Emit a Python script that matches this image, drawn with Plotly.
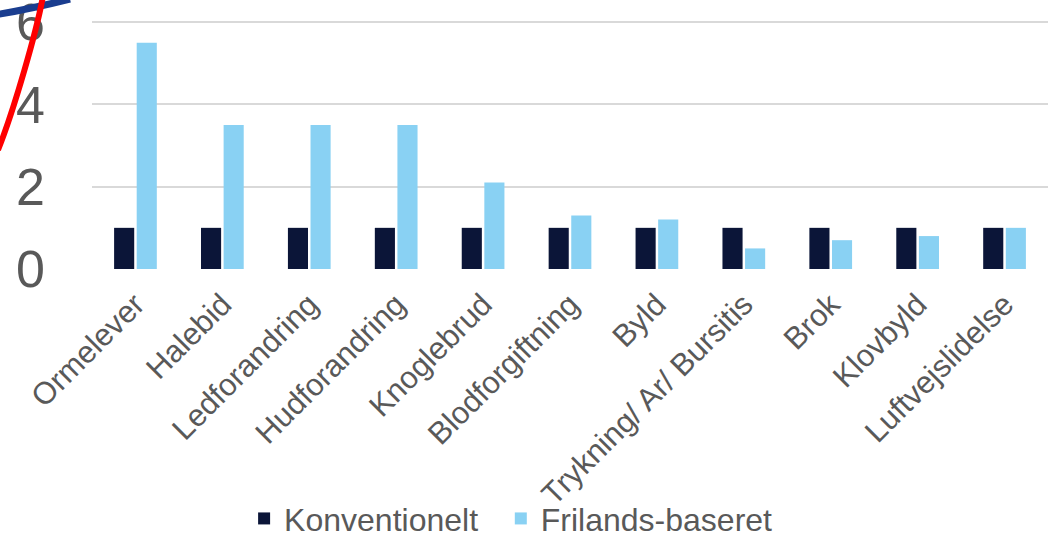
import plotly.graph_objects as go

categories = ["Ormelever", "Halebid", "Ledforandring", "Hudforandring", "Knoglebrud",
              "Blodforgiftning", "Byld", "Trykning/ Ar/ Bursitis", "Brok", "Klovbyld",
              "Luftvejslidelse"]
konventionelt = [1, 1, 1, 1, 1, 1, 1, 1, 1, 1, 1]
frilands = [5.5, 3.5, 3.5, 3.5, 2.1, 1.3, 1.2, 0.5, 0.7, 0.8, 1.0]
y_ticks = [0, 2, 4, 6]
series_names = ["Konventionelt", "Frilands-baseret"]

W, H = 1056, 538
L, R, T, B = 92, 8, 20, 269
pw, ph = W - L - R, H - T - B


def px(x):
    return (x - L) / pw


def py(y):
    return (H - B - y) / ph


fig = go.Figure()
fig.add_trace(go.Bar(x=categories, y=konventionelt, name=series_names[0] + "\u00a0\u00a0",
                     marker=dict(color="#0B1538", line=dict(width=0))))
fig.add_trace(go.Bar(x=categories, y=frilands, name=series_names[1],
                     marker=dict(color="#89D1F3", line=dict(width=0))))

font_color = "#595959"
fig.update_layout(
    width=W, height=H,
    margin=dict(l=L, r=R, t=T, b=B, autoexpand=False),
    paper_bgcolor="white", plot_bgcolor="white",
    barmode="group", bargap=0.48, bargroupgap=0.11,
    font=dict(family="Liberation Sans, Arial, sans-serif", color=font_color),
    xaxis=dict(tickangle=-45, tickfont=dict(size=31, color=font_color),
               showgrid=False, showline=False, ticks="", zeroline=False,
               ticklabelstandoff=10),
    yaxis=dict(range=[0, 6.05], tickvals=y_ticks, tickfont=dict(size=52, color=font_color),
               showgrid=True, gridcolor="#D9D9D9", gridwidth=1.5, zeroline=False,
               showline=False, ticks="", ticklabelstandoff=46,
               ticklabeloverflow="allow"),
    legend=dict(orientation="h", xref="container", yref="container",
                x=0.484, xanchor="center", y=0.036, yanchor="middle",
                font=dict(size=32, color=font_color), itemsizing="constant",
                bgcolor="rgba(0,0,0,0)"),
    showlegend=True,
)

x_to = lambda p: f"{px(p[0])},{py(p[1])}"

blue = [(-3, 14.5), (30, 9), (70, -1)]
red = [(-2, 150), (14, 110), (37, 30), (43, -4)]

fig.add_shape(type="path", xref="paper", yref="paper",
              path=f"M {x_to(blue[0])} Q {x_to(blue[1])} {x_to(blue[2])}",
              line=dict(color="#1A3D8F", width=7), layer="above")
fig.add_shape(type="path", xref="paper", yref="paper",
              path=f"M {x_to(red[0])} C {x_to(red[1])} {x_to(red[2])} {x_to(red[3])}",
              line=dict(color="#FF0000", width=6), layer="above")

fig.write_html("out.html", config={"displayModeBar": False},
               post_script="document.body.style.margin='0';document.body.style.overflow='hidden';")
